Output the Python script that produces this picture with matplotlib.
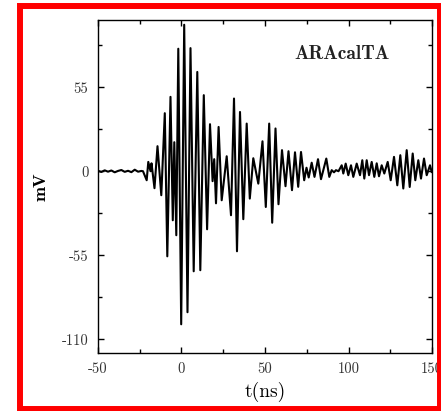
import matplotlib
matplotlib.use("Agg")
import matplotlib.pyplot as plt
from matplotlib.patches import Rectangle

# Pulse recorded by the ARAcalTA channel: time (ns) and voltage (mV)
t_baseline = [-50, -48, -46, -44, -42, -40, -38, -36, -34, -32, -30, -28, -26, -24]
v_baseline = [0.3, -0.5, 0.6, -0.3, 0.5, -0.7, 0.2, 0.8, -0.4, 0.3, -0.6, 1.0, -0.3, 0.2]

t_pulse = [-23.05, -20.84, -19.88, -18.56, -17.96, -16.17, -14.37, -12.10, -10.00, -8.50,
           -6.59, -5.21, -4.31, -3.11, -1.92, -0.18, 1.62, 3.59, 5.39, 7.31,
           9.46, 11.26, 13.35, 15.33, 17.07, 18.62, 19.58, 20.66, 22.22, 24.07,
           27.07, 29.64, 31.44, 33.23, 35.03, 37.01, 39.04, 40.90, 42.99, 45.99,
           48.50, 50.48, 52.51, 54.31, 56.29, 58.08, 60.18, 62.28, 64.07, 66.17,
           67.96, 69.88, 71.56, 73.47, 74.85, 76.17, 77.96, 79.64, 81.74, 83.53,
           86.71, 88.50, 89.94, 91.32, 92.51, 94.01, 95.93, 96.89, 98.32, 99.88,
           101.50, 102.87, 104.91, 106.89, 108.26, 109.46, 110.90, 112.28, 113.89, 115.45,
           116.89, 118.26, 119.88, 121.44, 123.47, 125.27, 127.25, 129.22, 131.02, 132.81,
           134.85, 136.65, 138.44, 140.00, 141.80, 143.41, 145.21, 146.83, 148.80, 149.82]
v_pulse = [0.0, -5.9, 6.1, 0.0, 5.2, -11.1, 16.4, -15.7, 38.0, -55.7,
           48.7, -32.1, 19.0, -41.9, 80.2, -100.2, 95.9, -92.3, 80.6, -65.5,
           65.0, -64.8, 49.8, -38.0, 30.8, -6.5, 7.9, -21.0, 29.0, -19.0,
           9.8, -28.8, 47.6, -52.4, 38.8, -31.4, 31.2, -17.9, 8.5, -8.1,
           19.6, -23.4, 31.2, -33.7, 28.0, -21.6, 13.8, -9.8, 13.1, -12.4,
           12.4, -10.2, 12.6, -5.9, 2.3, -4.1, 5.6, -3.7, 7.9, -5.2,
           8.3, -3.7, 0.7, -0.7, 0.7, 0.0, 3.9, -1.5, 5.0, -2.6,
           3.9, -3.7, 5.0, -2.6, 7.2, -4.8, 7.2, -2.6, 6.1, -3.7,
           5.2, -3.3, 3.9, -1.5, 6.1, -5.9, 9.4, -9.2, 10.5, -11.3,
           13.8, -10.3, 11.6, -5.9, 7.2, -4.8, 8.3, -2.6, 3.9, -0.5]

x_ticks = [-50, 0, 50, 100, 150]
x_tick_labels = ["-50", "0", "50", "100", "150"]
x_minor = [-25, 25, 75, 125]
y_ticks = [-110, -55, 0, 55]
y_tick_labels = ["-110", "-55", "0", "55"]
y_minor = [-82.5, -27.5, 27.5, 82.5]

plt.rcParams["axes.unicode_minus"] = False

fig = plt.figure(figsize=(4.41, 4.11), dpi=100)
ax = fig.add_axes([0.2222, 0.1411, 0.7574, 0.8102])

ax.plot(t_baseline + t_pulse, v_baseline + v_pulse, color="black", lw=1.5,
        solid_joinstyle="round")

ax.set_xlim(-50, 150)
ax.set_ylim(-119, 99)

ax.set_xticks(x_ticks)
ax.set_xticklabels(x_tick_labels, family="cmr10", fontsize=10.5, color="#333333")
ax.set_xticks(x_minor, minor=True)
ax.set_yticks(y_ticks)
ax.set_yticklabels(y_tick_labels, family="cmr10", fontsize=10.5, color="#333333")
ax.set_yticks(y_minor, minor=True)

ax.tick_params(which="both", direction="in", top=True, right=True, width=1.0)
ax.tick_params(which="major", length=4.5, pad=7)
ax.tick_params(which="minor", length=3)
for s in ax.spines.values():
    s.set_linewidth(1.0)

ax.set_xlabel("t(ns)", family="cmr10", fontsize=14, labelpad=4)
ax.set_ylabel("mV", family="cmb10", fontsize=13, labelpad=9)

ax.text(0.73, 0.898, "ARAcalTA", transform=ax.transAxes, family="cmb10",
        fontsize=14, ha="center", va="center", color="#222222")

# red frame around the whole panel
fig.patches.append(Rectangle((0.045, 0.006), 0.953, 0.98, transform=fig.transFigure,
                             fill=False, edgecolor="#ff0000", linewidth=4.3,
                             zorder=10))

fig.savefig("out.png", dpi=100)
